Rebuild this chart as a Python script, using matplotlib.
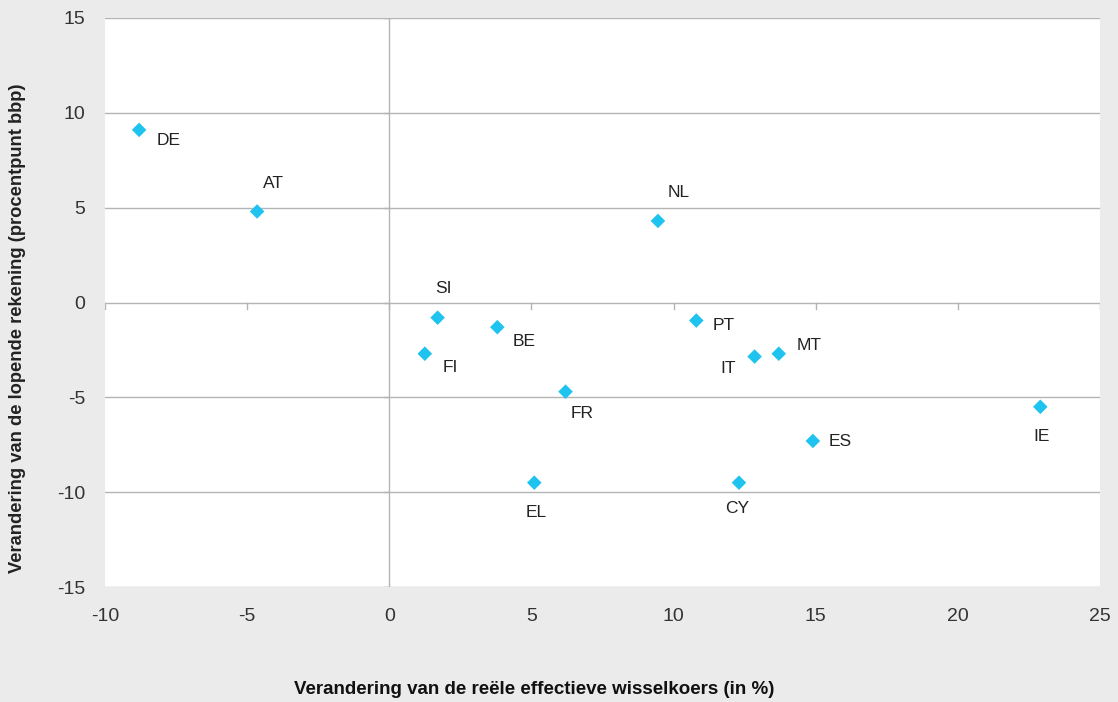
import matplotlib.pyplot as plt

# Reële effectieve wisselkoers vs. lopende rekening, eurolanden
plt.rcParams['axes.unicode_minus'] = False

landen = ['DE', 'AT', 'NL', 'SI', 'BE', 'FI', 'FR', 'PT', 'IT', 'MT', 'ES', 'IE', 'EL', 'CY']
wisselkoers = [-8.8, -4.65, 9.45, 1.7, 3.8, 1.25, 6.2, 10.8, 12.85, 13.7, 14.9, 22.9, 5.1, 12.3]
rekening = [9.1, 4.8, 4.3, -0.8, -1.3, -2.7, -4.7, -0.95, -2.85, -2.7, -7.3, -5.5, -9.5, -9.5]

# label offsets in pixels (dx, dy)
offsets = {'DE': (30, -11), 'AT': (16, 28), 'NL': (21, 28), 'SI': (6, 29),
           'BE': (27, -14), 'FI': (25, -14), 'FR': (17, -22), 'PT': (27, -5),
           'IT': (-26, -12), 'MT': (30, 8), 'ES': (27, -1), 'IE': (1, -30),
           'EL': (2, -30), 'CY': (-2, -26)}

bg = '#ebebeb'
fig = plt.figure(figsize=(11.18, 7.02), dpi=100, facecolor=bg)
ax = fig.add_axes([105 / 1118, 1 - 587 / 702, (1100 - 105) / 1118, (587 - 18) / 702])
ax.set_facecolor('white')

ax.set_xlim(-10, 25)
ax.set_ylim(-15, 15)

for y in range(-15, 16, 5):
    ax.axhline(y, color='#b4b4b4', lw=1.0, zorder=1)
ax.axvline(0, color='#b4b4b4', lw=1.0, zorder=1)

# small tick marks on the crossing axes
for x in range(-10, 26, 5):
    ax.plot([x, x], [0, -0.35], color='#b4b4b4', lw=1.0, zorder=1)
for y in range(-15, 16, 5):
    ax.plot([-0.2, 0], [y, y], color='#b4b4b4', lw=1.0, zorder=1)

ax.scatter(wisselkoers, rekening, marker='D', s=55, color='#1ec3f0', edgecolor='none', zorder=3)

for land, x, y in zip(landen, wisselkoers, rekening):
    dx, dy = offsets[land]
    ax.annotate(land, (x, y), xytext=(dx, dy), textcoords='offset pixels',
                ha='center', va='center', fontsize=12.5, color='#222222',
                family='Liberation Sans')

for s in ax.spines.values():
    s.set_visible(False)

ax.set_xticks(range(-10, 26, 5))
ax.set_yticks(range(-15, 16, 5))
ax.tick_params(length=0, labelsize=14, colors='#333333')
ax.tick_params(axis='x', pad=15)
ax.tick_params(axis='y', pad=14)
for lab in ax.get_xticklabels() + ax.get_yticklabels():
    lab.set_family('Liberation Sans')

fig.text(18 / 1118, 1 - 328 / 702, 'Verandering van de lopende rekening (procentpunt bbp)',
         rotation=90, ha='center', va='center', fontsize=13.2, fontweight='bold',
         family='Liberation Sans', color='#222222')
fig.text(534 / 1118, 1 - 689 / 702, 'Verandering van de reële effectieve wisselkoers (in %)',
         ha='center', va='center', fontsize=13.5, fontweight='bold',
         family='Liberation Sans', color='#111111')

fig.savefig('out.png', dpi=100, facecolor=bg)
